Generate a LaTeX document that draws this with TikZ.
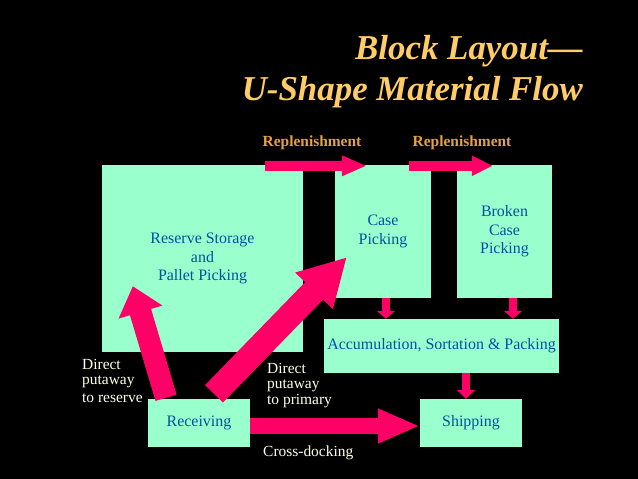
\documentclass[tikz,border=0pt]{standalone}
\usepackage{fontspec}
\setmainfont{Liberation Serif}
\usepackage{xcolor}
\usepackage{tikz}
\usetikzlibrary{positioning,arrows.meta,calc}

\definecolor{aqua}{HTML}{99FFCC}
\definecolor{boxtext}{HTML}{0050A0}
\definecolor{rose}{HTML}{FF0066}
\definecolor{gold}{HTML}{FFCC66}
\definecolor{amber}{HTML}{E8A040}
\definecolor{cream}{HTML}{FFFFE8}

\begin{document}
\begin{tikzpicture}[x=1bp, y=-1bp,
    box/.style={fill=aqua, text=boxtext, inner sep=0pt, align=center, font=\fontsize{16}{18.7}\selectfont},
    flow/.style n args={3}{draw=rose, line width=#1, -{Triangle[width=#2, length=#3]}},
    tag/.style={font=\bfseries\fontsize{15.5}{17}\selectfont, text=amber, inner sep=0pt, anchor=base},
    note/.style={font=\fontsize{15.5}{15.5}\selectfont, text=cream, inner sep=0pt, align=left, anchor=base west},
    title/.style={font=\bfseries\itshape\fontsize{35}{40}\selectfont, text=gold, inner sep=0pt, anchor=base east},
]
\fill[black] (0,0) rectangle (638,479);

\node[title] (t1) at (583,60) {Block Layout---};
\node[title] (t2) at (583,101) {U-Shape Material Flow};

\node[box, minimum width=201bp, minimum height=187bp] (reserve) at (202.5,258.5) {Reserve Storage\\and\\Pallet Picking};
\node[box, minimum width=96bp, minimum height=133bp] (case) at (383,231.5) {Case\\Picking};
\node[box, minimum width=95bp, minimum height=133bp] (broken) at (504.5,231.5) {Broken\\Case\\Picking};
\node[box, minimum width=235bp, minimum height=54bp] (accum) at (441.5,346) {Accumulation, Sortation \& Packing};
\node[box, minimum width=102bp, minimum height=48bp] (ship) at (471,423) {Shipping};
\node[box, minimum width=102bp, minimum height=48bp] (recv) at (199,423) {Receiving};

\draw[flow={10bp}{19bp}{25bp}] ([xshift=-38bp, yshift=-1bp]reserve.north east) -- ([xshift=32bp, yshift=-1bp]case.north west);
\draw[flow={10bp}{19bp}{21bp}] ([xshift=-22bp, yshift=-1bp]case.north east) -- ([xshift=36bp, yshift=-1bp]broken.north west);
\draw[flow={8bp}{18bp}{8bp}] ([xshift=3bp]case.south) -- ([xshift=3bp]case.south |- accum.north);
\draw[flow={8bp}{18bp}{8bp}] ([xshift=8.5bp]broken.south) -- ([xshift=8.5bp]broken.south |- accum.north);
\draw[flow={8bp}{18bp}{9bp}] ([xshift=-5bp]ship.north |- accum.south) -- ([xshift=-5bp]ship.north);
\draw[flow={16bp}{32bp}{42bp}] ([yshift=-3bp]recv.east) -- ([yshift=-3bp]recv.east -| ship.west);
\draw[flow={22bp}{44bp}{27bp}] ([xshift=-33bp, yshift=1bp]recv.north) -- ([xshift=31bp, yshift=66bp]reserve.south west);
\draw[flow={25bp}{49bp}{47bp}] ([xshift=15bp, yshift=5bp]recv.north) -- ([xshift=12bp, yshift=41bp]case.south west);

\node[tag] (rep1) at (312,147) {Replenishment};
\node[tag] (rep2) at (462,147) {Replenishment};

\node[note] (toreserve) at (82,402) {Direct\\putaway\\[2bp]to reserve};
\node[note] (toprimary) at (267,404) {Direct\\putaway\\to primary};
\node[note] (xdock) at (263,456) {Cross-docking};
\end{tikzpicture}
\end{document}
